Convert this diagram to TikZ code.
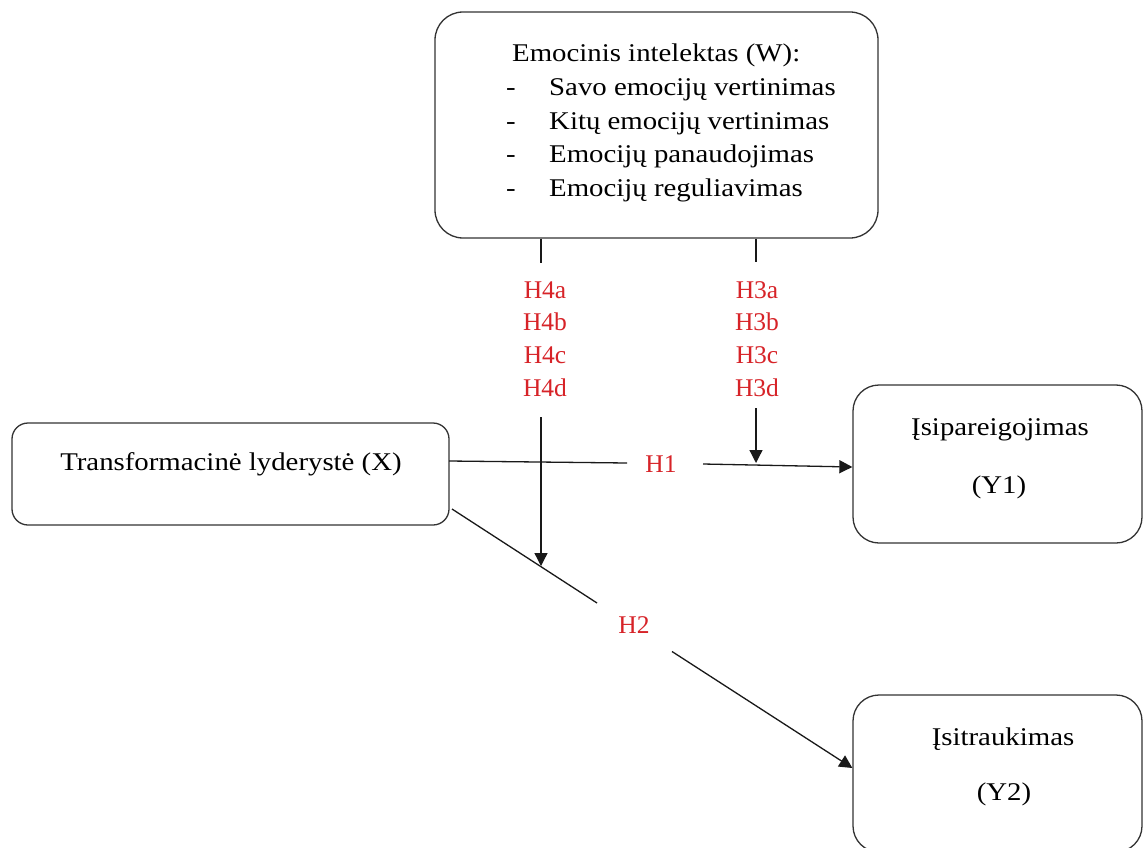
\documentclass[tikz,border=0pt]{standalone}
\usepackage{fontspec}
\setmainfont{Liberation Serif}
\newfontfamily\widefont{Liberation Serif}[FakeStretch=1.13]
\usetikzlibrary{arrows.meta}
\definecolor{hred}{RGB}{215,35,40}
\begin{document}
\begin{tikzpicture}[x=1pt,y=-1pt,
  box/.style={draw=black!80, line width=1.3pt, inner sep=0pt},
  txt/.style={inner sep=0pt, font=\widefont\fontsize{25.5}{33}\selectfont},
  lab/.style={inner sep=0pt, font=\fontsize{25.5}{33}\selectfont, text=hred},
  conn/.style={line width=1.3pt, draw=black!90},
  arr/.style={conn, -{Triangle[length=13pt,width=13pt]}}]
\clip (0,0) rectangle (1145,848);
\fill[white] (0,0) rectangle (1145,848);
% boxes
\node[box, rounded corners=28pt, minimum width=443pt, minimum height=226pt] (W) at (656.5,125) {};
\node[box, rounded corners=16pt, minimum width=437pt, minimum height=102pt] (X) at (230.5,474) {};
\node[box, rounded corners=26pt, minimum width=289pt, minimum height=158pt] (Y1) at (997.5,464) {};
\node[box, rounded corners=26pt, minimum width=289pt, minimum height=157pt] (Y2) at (997.5,773.5) {};
% W text
\node[txt, anchor=base west] (w0) at (512,62) {Emocinis intelektas (W):};
\node[txt, anchor=base west] (d1) at (506,95.5) {-};
\node[txt, anchor=base west] (w1) at (549,95.5) {Savo emocijų vertinimas};
\node[txt, anchor=base west] (d2) at (506,129) {-};
\node[txt, anchor=base west] (w2) at (549,129) {Kitų emocijų vertinimas};
\node[txt, anchor=base west] (d3) at (506,162.5) {-};
\node[txt, anchor=base west] (w3) at (549,162.5) {Emocijų panaudojimas};
\node[txt, anchor=base west] (d4) at (506,196) {-};
\node[txt, anchor=base west] (w4) at (549,196) {Emocijų reguliavimas};
% other box texts
\node[txt, anchor=base] (xt) at (231,470) {Transformacinė lyderystė (X)};
\node[txt, anchor=base] (y1a) at (1000,435) {Įsipareigojimas};
\node[txt, anchor=base] (y1b) at (999,493) {(Y1)};
\node[txt, anchor=base] (y2a) at (1003,745) {Įsitraukimas};
\node[txt, anchor=base] (y2b) at (1004,800) {(Y2)};
% red labels
\node[lab, anchor=base] (h4a) at (545,298) {H4a};
\node[lab, anchor=base] (h4b) at (545,330.5) {H4b};
\node[lab, anchor=base] (h4c) at (545,363) {H4c};
\node[lab, anchor=base] (h4d) at (545,396) {H4d};
\node[lab, anchor=base] (h3a) at (757,298) {H3a};
\node[lab, anchor=base] (h3b) at (757,330.5) {H3b};
\node[lab, anchor=base] (h3c) at (757,363) {H3c};
\node[lab, anchor=base] (h3d) at (757,396) {H3d};
\node[lab, anchor=base] (h1) at (661,472) {H1};
\node[lab, anchor=base] (h2) at (634,633) {H2};
% connector points
\coordinate (h4top) at (541,263);
\coordinate (h4s) at (541,417);
\coordinate (h4e) at (541,566);
\coordinate (h3top) at (756,262);
\coordinate (h3s) at (756,408);
\coordinate (h3e) at (756,463);
\coordinate (p1s) at (449,461);
\coordinate (p1m) at (627,463);
\coordinate (p1n) at (703,464);
\coordinate (p2s) at (452,509);
\coordinate (p2m) at (597,603);
\coordinate (p2n) at (672,651.5);
% connectors
\draw[conn] (W.south -| h4top) -- (h4top);
\draw[arr] (h4s) -- (h4e);
\draw[conn] (W.south -| h3top) -- (h3top);
\draw[arr] (h3s) -- (h3e);
\draw[conn] (p1s) -- (p1m);
\draw[arr] (p1n) -- (Y1.west |- 0,467);
\draw[conn] (p2s) -- (p2m);
\draw[arr] (p2n) -- (Y2.west |- 0,768);
\end{tikzpicture}
\end{document}
